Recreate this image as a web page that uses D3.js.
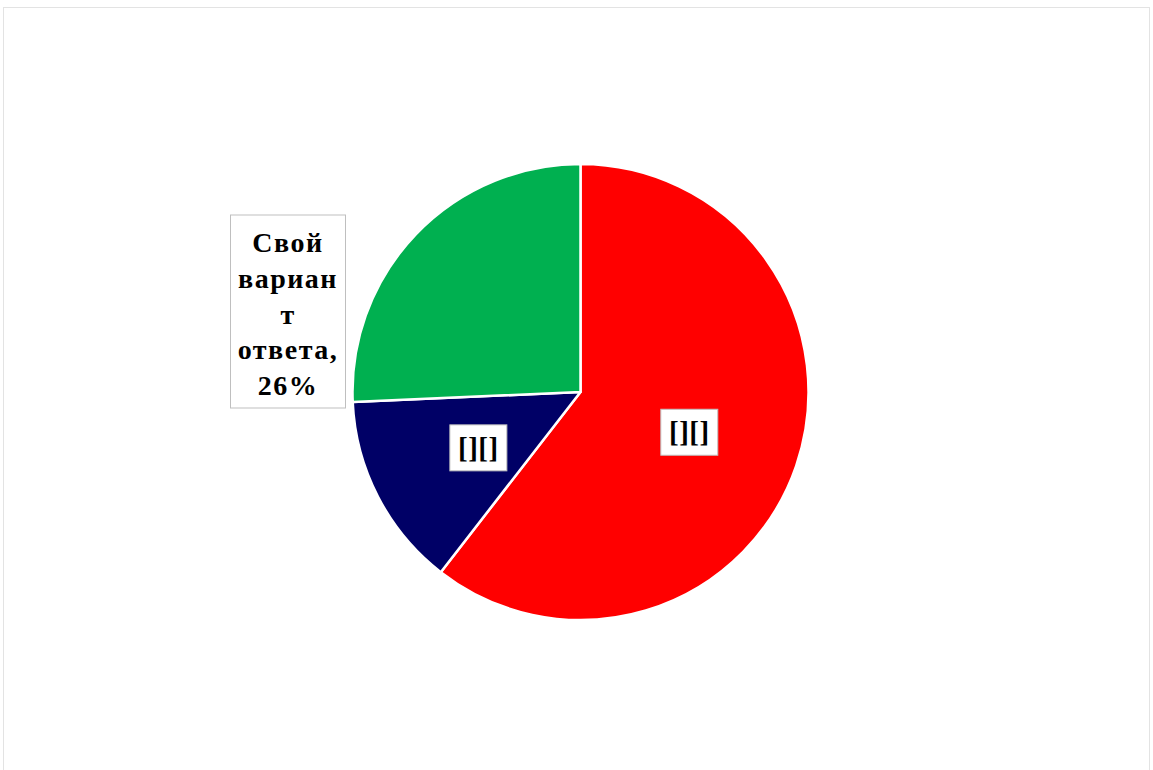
<!DOCTYPE html>
<html><head><meta charset="utf-8">
<script src="https://cdn.jsdelivr.net/npm/d3@7"></script>
<style>html,body{margin:0;padding:0;background:#fff;}svg{display:block;}</style>
</head><body>
<svg id="chart" width="1153" height="770"></svg>
<script>
const categories = ["[][]", "[][]", "Свой вариант ответа"];
const values = [60.5, 13.8, 25.7];
const colors = ["#FF0000", "#000066", "#00B050"];
const greenLabelLines = ["Свой", "вариан", "т", "ответа,", "26%"];

const svg = d3.select("#chart");
svg.append("rect").attr("x", 3.5).attr("y", 7.5).attr("width", 1146).attr("height", 770)
  .attr("fill", "#fff").attr("stroke", "#e3e3e3").attr("stroke-width", 1);

const cx = 580.5, cy = 392, r = 228;
const g = svg.append("g").attr("transform", `translate(${cx},${cy})`);
const data = categories.map((c, i) => ({cat: c, value: values[i], color: colors[i], i}));
const pie = d3.pie().value(d => d.value).sort(null);
const arcs = pie(data);
const arc = d3.arc().innerRadius(0).outerRadius(r);
const labelArc = d3.arc().innerRadius(0).outerRadius(230);

g.selectAll("path").data(arcs).enter().append("path")
  .attr("d", arc).attr("fill", d => d.data.color)
  .attr("stroke", "#fff").attr("stroke-width", 2.5).attr("stroke-linejoin", "round");

const font = "'Liberation Serif','Times New Roman',serif";
// inner labels
arcs.filter(d => d.data.i < 2).forEach(d => {
  const [x, y] = labelArc.centroid(d);
  const lg = g.append("g").attr("transform", `translate(${x},${y + 3})`);
  lg.append("rect").attr("x", -28.5).attr("y", -23).attr("width", 57).attr("height", 46)
    .attr("fill", "#fff").attr("stroke", "#bfbfbf").attr("stroke-width", 1);
  lg.append("text").attr("text-anchor", "middle").attr("y", 10)
    .attr("font-family", font).attr("font-weight", "bold").attr("font-size", 29)
    .attr("letter-spacing", 0.5)
    .attr("fill", "#000").text(d.data.cat);
});

// outside label for green slice
const gl = svg.append("g").attr("transform", "translate(288,311.5)");
gl.append("rect").attr("x", -57.5).attr("y", -96.5).attr("width", 115).attr("height", 193)
  .attr("fill", "#fff").attr("stroke", "#bfbfbf").attr("stroke-width", 1);
gl.selectAll("text").data(greenLabelLines).enter().append("text")
  .attr("text-anchor", "middle").attr("y", (d, i) => -59.5 + i * 35.8)
  .attr("font-family", font).attr("font-weight", "bold").attr("font-size", 28)
  .attr("letter-spacing", 1.5)
  .attr("fill", "#000").text(d => d);
</script>
</body></html>
